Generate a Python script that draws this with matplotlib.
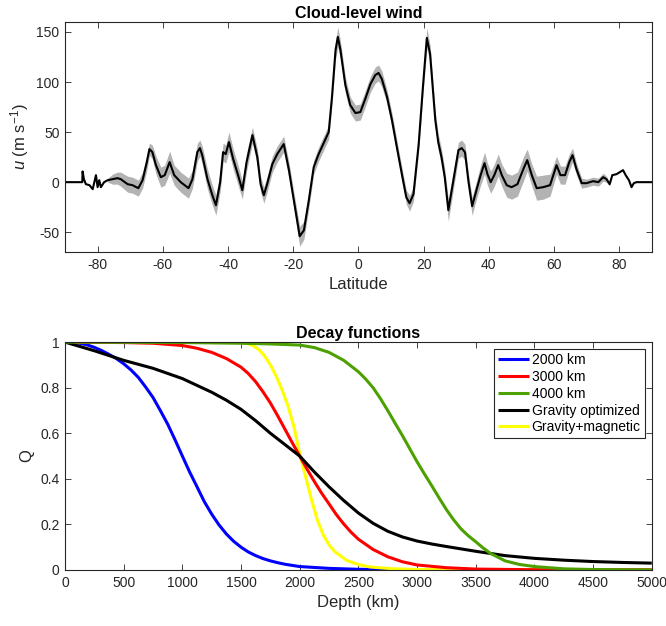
"""
Cloud-level wind profile and decay functions (two panels)
"""

import numpy as np
import matplotlib
matplotlib.use('Agg')
import matplotlib.pyplot as plt

plt.rcParams['font.family'] = ['Liberation Sans', 'DejaVu Sans']
plt.rcParams['mathtext.fontset'] = 'custom'
plt.rcParams['mathtext.rm'] = 'Liberation Sans'
plt.rcParams['mathtext.it'] = 'Liberation Sans:italic'
plt.rcParams['axes.unicode_minus'] = False

nan = np.nan

# ---- top panel: zonal wind vs latitude ----
lat = [-90, -84.7, -84.6, -84.2, -83.6, -82.5, -81.5, -81.0, -80.5, -80.0,
       -79.5, -79.0, -78.0, -76.9, -75.4, -73.9, -72.9, -70.8, -69.3, -67.5,
       -66.2, -64.9, -64.1, -63.2, -62.1, -60.6, -59.4, -57.9, -56.5, -54.5,
       -52.1, -50.9, -49.4, -48.6, -47.9, -46.3, -44.8, -43.7, -42.4, -41.5,
       -40.7, -39.7, -38.4, -36.9, -35.6, -34.3, -32.5, -31.0, -30.0, -29.0,
       -28.0, -26.4, -24.9, -22.9, -21.3, -19.8, -18.0, -16.7, -15.2, -13.7,
       -12.2, -10.1, -9.1, -8.1, -7.0, -6.3, -5.5, -4.0, -2.5, -0.9,
       0.6, 2.1, 3.7, 5.2, 6.2, 7.2, 8.8, 10.3, 11.8, 13.4,
       14.7, 15.7, 16.9, 18.5, 19.8, 21.0, 22.0, 23.6, 24.5, 25.5,
       26.5, 27.6, 29.2, 30.7, 31.7, 32.7, 33.8, 34.9, 36.3, 37.5,
       38.7, 39.6, 40.6, 41.7, 42.9, 44.0, 45.5, 47.0, 48.8, 50.6,
       51.8, 53.2, 54.7, 56.7, 58.8, 59.8, 60.8, 62.0, 63.4, 64.7,
       65.7, 66.9, 68.5, 70.0, 72.0, 73.6, 75.1, 76.1, 77.1, 77.9,
       79.2, 80.2, 81.2, 82.0, 83.0, 83.8, 84.5, 85.3, 90]
u = [0, 0, 10.7, 3, -2, -3, -7, 0, 7, -5,
     2, -5, 0, 2, 3, 4, 3, -2, -3, -6,
     2, 20, 33, 30, 17, 5, 7, 20, 7, 0,
     -6, 3, 30, 34, 27, 3, -13, -23, 0, 30,
     28, 40, 23, 7, -8, 20, 47, 25, -2, -13,
     -2, 18, 28, 38, 12, -18, -54, -48, -18, 15,
     28, 43, 50, 85, 132, 145, 132, 97, 77, 69,
     70, 83, 98, 107, 109, 103, 85, 62, 35, 7,
     -15, -21, -12, 38, 95, 144, 128, 62, 40, 25,
     5, -28, 3, 32, 34, 30, 0, -24, -7, 7,
     19, 8, 0, 7, 17, 7, -3, -5, -2, 13,
     22, 7, -6, -5, -3, 7, 17, 7, 7, 20,
     27, 13, -1, -1, 1, 0, 5, 3, -2, 7,
     8, 10, 12, 7, 2, -5, -1, 0, 0]
# half-width of the grey ensemble spread (nan = no spread drawn)
spread = [nan, nan, nan, nan, nan, nan, nan, nan, nan, nan,
          nan, nan, nan, 2, 5, 6, 7, 8, 8, 8,
          8, 8, 6, 7, 9, 10, 10, 11, 10, 10,
          10, 9, 9, 8, 9, 10, 10, 10, 10, 9,
          9, 10, 10, 10, 9, 9, 8, 8, 8, 8,
          8, 8, 8, 8, 8, 8, 10, 9, 8, 7,
          7, 7, 7, 8, 9, 10, 9, 8, 8, 8,
          8, 8, 8, 8, 8, 8, 7, 7, 7, 7,
          7, 8, 7, 7, 8, 10, 9, 8, 8, 8,
          8, 11, 9, 8, 8, 8, 8, 9, 9, 10,
          11, 11, 11, 11, 11, 11, 12, 12, 12, 12,
          11, 11, 12, 12, 11, 10, 9, 9, 9, 8,
          7, 6, 5, 4, 4, 4, 4, 3, 2, nan,
          nan, nan, nan, nan, nan, nan, nan, nan, nan]

# ---- bottom panel: decay functions Q(depth) ----
depth_2000 = [0, 125, 187, 250, 312, 375, 437, 500, 562, 625, 687, 750, 812,
              875, 937, 1000, 1062, 1125, 1187, 1250, 1312, 1375, 1437, 1500,
              1562, 1625, 1687, 1750, 1812, 1875, 2000, 2250, 2500, 3000, 5000]
q_2000 = [1.0, 0.995, 0.988, 0.977, 0.963, 0.946, 0.928, 0.905, 0.878, 0.845,
          0.803, 0.757, 0.70, 0.64, 0.572, 0.50, 0.43, 0.365, 0.30, 0.245,
          0.198, 0.158, 0.126, 0.10, 0.079, 0.063, 0.05, 0.04, 0.032, 0.025,
          0.015, 0.007, 0.003, 0.001, 0.0]

depth_3000 = [0, 500, 750, 1000, 1125, 1250, 1375, 1500, 1562, 1625, 1687,
              1750, 1812, 1875, 1937, 2000, 2062, 2125, 2187, 2250, 2312, 2375,
              2437, 2500, 2625, 2750, 2875, 3000, 3250, 3500, 4000, 5000]
q_3000 = [1.0, 0.998, 0.995, 0.985, 0.973, 0.955, 0.928, 0.89, 0.862, 0.826,
          0.782, 0.733, 0.677, 0.617, 0.558, 0.50, 0.443, 0.388, 0.337, 0.29,
          0.243, 0.202, 0.166, 0.135, 0.09, 0.058, 0.036, 0.022, 0.01, 0.004,
          0.001, 0.0]

depth_4000 = [0, 1000, 1500, 1750, 2000, 2125, 2250, 2375, 2500, 2562, 2625,
              2687, 2750, 2812, 2875, 2937, 3000, 3062, 3125, 3187, 3250, 3312,
              3375, 3437, 3500, 3562, 3625, 3750, 3875, 4000, 4250, 4500, 5000]
q_4000 = [1.0, 0.998, 0.995, 0.992, 0.987, 0.976, 0.955, 0.92, 0.87, 0.838,
          0.80, 0.753, 0.70, 0.645, 0.59, 0.533, 0.475, 0.422, 0.37, 0.317,
          0.265, 0.22, 0.18, 0.15, 0.124, 0.097, 0.073, 0.04, 0.024, 0.015,
          0.005, 0.002, 0.0]

depth_grav = [0, 250, 500, 750, 1000, 1250, 1375, 1500, 1625, 1750, 1875,
              2000, 2125, 2250, 2375, 2500, 2625, 2750, 2875, 3000, 3125,
              3250, 3500, 3750, 4000, 4250, 4500, 4750, 5000]
q_grav = [1.0, 0.962, 0.92, 0.885, 0.84, 0.78, 0.745, 0.705, 0.655, 0.60,
          0.55, 0.50, 0.43, 0.365, 0.305, 0.25, 0.205, 0.17, 0.145, 0.127,
          0.114, 0.103, 0.082, 0.063, 0.051, 0.043, 0.037, 0.033, 0.03]

depth_gm = [0, 1000, 1500, 1550, 1600, 1650, 1700, 1750, 1800, 1850, 1900,
            1950, 2000, 2050, 2100, 2150, 2200, 2250, 2300, 2400, 2500, 2600,
            2800, 3000, 5000]
q_gm = [1.0, 1.0, 0.998, 0.994, 0.985, 0.968, 0.94, 0.90, 0.85, 0.79, 0.72,
        0.63, 0.51, 0.41, 0.31, 0.22, 0.155, 0.11, 0.08, 0.042, 0.024, 0.013,
        0.005, 0.002, 0.0]

curves = [
    (depth_2000, q_2000, '#0000ff', '2000 km'),
    (depth_3000, q_3000, '#ff0000', '3000 km'),
    (depth_4000, q_4000, '#4ca000', '4000 km'),
    (depth_grav, q_grav, '#000000', 'Gravity optimized'),
    (depth_gm, q_gm, '#ffff00', 'Gravity+magnetic'),
]
# draw order as in the original (yellow under green/black near the top)
draw_order = [0, 4, 1, 3, 2]

AX_COLOR = '#262626'


def style_axes(ax):
    for spine in ax.spines.values():
        spine.set_color(AX_COLOR)
        spine.set_linewidth(0.8)
    ax.tick_params(direction='in', top=True, right=True, length=4.5,
                   width=0.6, colors=AX_COLOR, labelsize=10, pad=4)


fig = plt.figure(figsize=(6.66, 6.26), dpi=100, facecolor='white')

# top panel
ax1 = fig.add_axes([0.0976, 0.597, 0.881, 0.368])
lat_a = np.array(lat)
u_a = np.array(u)
sp_a = np.array(spread)
ax1.fill_between(lat_a, u_a - sp_a, u_a + sp_a, color='#b3b3b3',
                 linewidth=0, zorder=1)
ax1.plot(lat_a, u_a, color='black', linewidth=1.5, zorder=2)
ax1.set_xlim(-90, 90)
ax1.set_ylim(-70, 160)
ax1.set_xticks(np.arange(-80, 81, 20))
ax1.set_yticks([-50, 0, 50, 100, 150])
ax1.set_xlabel('Latitude', fontsize=12, color=AX_COLOR)
ax1.set_ylabel(r'$u$ (m s$^{-1}$)', fontsize=12, color=AX_COLOR)
ax1.set_title('Cloud-level wind', fontsize=11.5, fontweight='bold', pad=3)
style_axes(ax1)

# bottom panel
ax2 = fig.add_axes([0.0976, 0.0895, 0.881, 0.364])
handles = {}
for i in draw_order:
    d, q, c, name = curves[i]
    handles[i], = ax2.plot(d, q, color=c, linewidth=2.2, label=name,
                           solid_capstyle='butt', solid_joinstyle='round')
ax2.set_xlim(0, 5000)
ax2.set_ylim(0, 1)
ax2.set_xticks(np.arange(0, 5001, 500))
ax2.set_yticks([0, 0.2, 0.4, 0.6, 0.8, 1])
ax2.set_yticklabels(['0', '0.2', '0.4', '0.6', '0.8', '1'])
ax2.set_xlabel('Depth (km)', fontsize=12, color=AX_COLOR)
ax2.set_ylabel('Q', fontsize=12, color=AX_COLOR)
ax2.set_title('Decay functions', fontsize=11.5, fontweight='bold', pad=3)
style_axes(ax2)

leg = ax2.legend([handles[i] for i in range(5)], [c[3] for c in curves],
                 loc='upper right', fontsize=10, frameon=True, fancybox=False,
                 framealpha=1, edgecolor=AX_COLOR, handlelength=2.2,
                 handletextpad=0.2, labelspacing=0.2, borderpad=0.3,
                 borderaxespad=0.5)
leg.get_frame().set_linewidth(0.8)

fig.savefig('out.png', dpi=100, facecolor='white')
